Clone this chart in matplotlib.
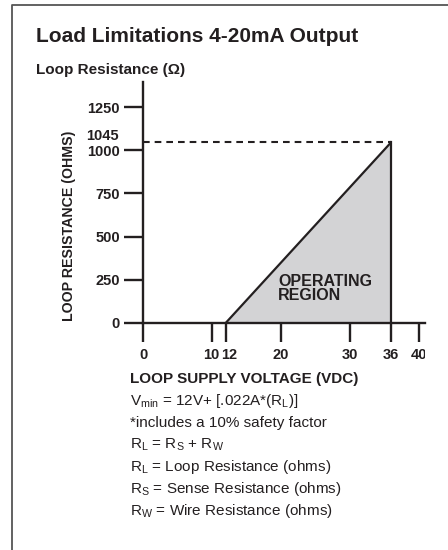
import matplotlib
matplotlib.use("Agg")
import matplotlib.pyplot as plt
from matplotlib.lines import Line2D
from matplotlib.transforms import Bbox, TransformedBbox, IdentityTransform, ScaledTranslation

# data
voltage = [12, 36]          # VDC
resistance = [0, 1045]      # ohms
max_load = 1045
x_ticks = [0, 10, 12, 20, 30, 36, 40]
y_ticks = [0, 250, 500, 750, 1000, 1250]
notes = [
    r"$\mathregular{V_{min}}$ = 12V+ [.022A*($\mathregular{R_L}$)]",
    "*includes a 10% safety factor",
    r"$\mathregular{R_L}$ = $\mathregular{R_S}$ + $\mathregular{R_W}$",
    r"$\mathregular{R_L}$ = Loop Resistance (ohms)",
    r"$\mathregular{R_S}$ = Sense Resistance (ohms)",
    r"$\mathregular{R_W}$ = Wire Resistance (ohms)",
]

plt.rcParams['font.family'] = ['Liberation Sans', 'DejaVu Sans']
ink = '#231f20'

W, H = 448, 550
fig = plt.figure(figsize=(W / 100, H / 100), dpi=100, facecolor='white')

# axes placed in pixel terms: x 143..425, y 82..323
ax = fig.add_axes([143 / W, 1 - 323 / H, (425 - 143) / W, (323 - 82) / H])
ax.set_xlim(0, 40.94)
ax.set_ylim(0, 1395)

# operating region
ax.fill_between(voltage, [0, 0], resistance, color='#d3d3d5', lw=0, zorder=1)
ax.plot(voltage, resistance, color=ink, lw=1.6, zorder=3, solid_capstyle='butt')
ax.plot([voltage[1], voltage[1]], [0, max_load], color=ink, lw=1.6, zorder=3)
ax.plot([0, voltage[1]], [max_load, max_load], color=ink, lw=1.5,
        linestyle=(0, (3.2, 2.4)), zorder=3)
ax.text(19.6, 200, "OPERATING\nREGION", ha='left', va='center',
        fontsize=11.5, fontweight='bold', color=ink, linespacing=0.95)

# axes styling
for s in ['top', 'right']:
    ax.spines[s].set_visible(False)
for s in ['left', 'bottom']:
    ax.spines[s].set_linewidth(1.7)
    ax.spines[s].set_color(ink)
ax.set_xticks(x_ticks)
ax.set_yticks(y_ticks)
ax.tick_params(direction='out', length=14, width=1.7, color=ink,
               labelsize=10.5, labelcolor=ink)
ax.tick_params(axis='y', pad=2.5)
ax.tick_params(axis='x', pad=4)
for lab in ax.get_xticklabels() + ax.get_yticklabels():
    lab.set_fontweight('bold')
clip = TransformedBbox(Bbox([[0, 0], [425, H]]), IdentityTransform())
xlabs = ax.get_xticklabels()
for lab in xlabs:
    lab.set_clip_on(True)
    lab.set_clip_box(clip)
# nudge the crowded 10 / 12 labels apart like the original
xlabs[1].set_transform(xlabs[1].get_transform() + ScaledTranslation(-1 / 100, 0, fig.dpi_scale_trans))
xlabs[2].set_transform(xlabs[2].get_transform() + ScaledTranslation(4 / 100, 0, fig.dpi_scale_trans))
ax.annotate(str(max_load), xy=(0, max_load), xytext=(-24, 6),
            textcoords='offset pixels', ha='right', va='center',
            fontsize=10.5, fontweight='bold', color=ink)

# titles and labels
fig.text(36 / W, 1 - 42 / H, "Load Limitations 4-20mA Output", fontsize=15,
         fontweight='bold', color=ink, ha='left', va='baseline')
fig.text(36 / W, 1 - 74 / H, "Loop Resistance (\u03a9)", fontsize=11,
         fontweight='bold', color=ink, ha='left', va='baseline')
fig.text(69 / W, 1 - 226 / H, "LOOP RESISTANCE (OHMS)", rotation=90,
         fontsize=10.2, fontweight='bold', color=ink, ha='center', va='center')
fig.text(130 / W, 1 - 383 / H, "LOOP SUPPLY VOLTAGE (VDC)", fontsize=11,
         fontweight='bold', color=ink, ha='left', va='baseline')
for i, line in enumerate(notes):
    fig.text(130 / W, 1 - (405 + 22 * i) / H, line, fontsize=11,
             color=ink, ha='left', va='baseline')

# frame lines (left and top edges of the panel)
fig.add_artist(Line2D([12 / W, 12 / W, 1], [0, 1 - 5 / H, 1 - 5 / H],
                      transform=fig.transFigure, color='#555555', lw=1.3))

fig.savefig("out.png", dpi=100, facecolor='white')
